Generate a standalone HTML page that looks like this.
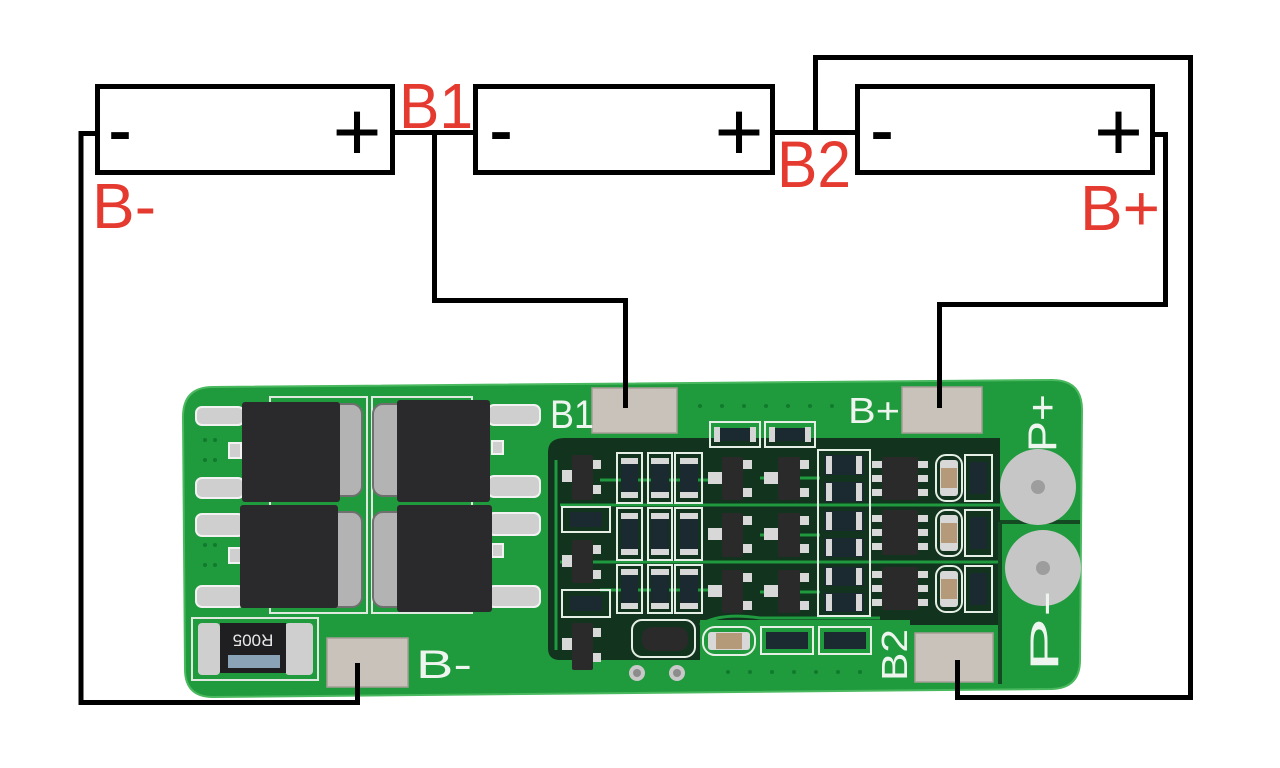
<!DOCTYPE html>
<html><head><meta charset="utf-8"><style>
html,body{margin:0;padding:0;background:#fff;}
svg{display:block;}
</style></head><body>
<svg width="1280" height="768" viewBox="0 0 1280 768" xmlns="http://www.w3.org/2000/svg">
<rect width="1280" height="768" fill="#ffffff"/>

<!-- PCB board -->
<path d="M213 387 L1052 380 Q1082 380 1082 410 L1080 660 Q1080 688 1052 689 L213 697 Q185 697 185 669 L183 417 Q183 387 213 387 Z" fill="#1f9a3c" stroke="#49b85e" stroke-width="2"/>

<!-- dark copper region -->
<path d="M565 438 L1000 438 L1000 625 L880 625 L870 660 L560 660 Q548 660 548 648 L548 452 Q548 438 565 438 Z" fill="#12331d"/>
<!-- green traces in dark region -->
<g stroke="#1f9a3e" stroke-width="3" fill="none">
<path d="M560 505 H1000"/><path d="M560 562 H1000"/><path d="M600 480 H720"/><path d="M600 590 H720"/>
<path d="M760 478 H820"/><path d="M760 535 H820"/><path d="M760 592 H820"/>
<path d="M700 625 Q720 612 760 618 H880"/>
<path d="M556 460 V650"/>
</g>
<!-- green area strip at bottom -->
<rect x="700" y="620" width="210" height="60" fill="#1f9a3c"/>
<rect x="548" y="660" width="150" height="25" fill="#1f9a3c"/>

<!-- separator lines right -->
<path d="M1000 522 V684 M1000 522 H1080" stroke="#134a22" stroke-width="4" fill="none"/>

<!-- MOSFET silkscreen frames -->
<g fill="none" stroke="#dfe9df" stroke-width="2">
<rect x="270" y="397" width="97" height="216"/>
<rect x="372" y="397" width="100" height="216"/>
<rect x="192" y="618" width="126" height="62"/>
</g>
<!-- MOSFET tabs -->
<g fill="#b3b3b3" stroke="#6f6f6f" stroke-width="2">
<rect x="322" y="404" width="40" height="92" rx="10"/>
<rect x="322" y="512" width="40" height="95" rx="10"/>
<rect x="373" y="404" width="40" height="92" rx="10"/>
<rect x="373" y="512" width="40" height="95" rx="10"/>
</g>
<!-- pins left -->
<g fill="#cfcfcf" stroke="#f2f2f2" stroke-width="2">
<rect x="196" y="407" width="48" height="18" rx="6"/>
<rect x="196" y="478" width="48" height="20" rx="6"/>
<rect x="196" y="514" width="48" height="22" rx="6"/>
<rect x="196" y="586" width="48" height="21" rx="6"/>
<rect x="229" y="443" width="12" height="15"/>
<rect x="229" y="548" width="12" height="15"/>
<rect x="488" y="405" width="52" height="20" rx="6"/>
<rect x="488" y="476" width="52" height="21" rx="6"/>
<rect x="488" y="513" width="52" height="22" rx="6"/>
<rect x="488" y="586" width="52" height="21" rx="6"/>
<rect x="492" y="441" width="11" height="13"/>
<rect x="492" y="544" width="11" height="13"/>
</g>
<!-- MOSFET bodies -->
<g fill="#2a2a2c">
<rect x="242" y="402" width="98" height="100" rx="3"/>
<rect x="240" y="505" width="98" height="103" rx="3"/>
<rect x="397" y="400" width="93" height="102" rx="3"/>
<rect x="397" y="505" width="95" height="107" rx="3"/>
</g>

<!-- R005 sense resistor -->
<rect x="198" y="623" width="22" height="52" rx="4" fill="#cfcfcf"/>
<rect x="285" y="623" width="28" height="52" rx="4" fill="#cfcfcf"/>
<rect x="220" y="623" width="66" height="50" fill="#1f1f21"/>
<rect x="228" y="655" width="52" height="13" fill="#8aa3b6"/>
<text x="253" y="640" transform="rotate(180 253 640)" text-anchor="middle" dominant-baseline="central" font-family="Liberation Sans, sans-serif" font-size="17" fill="#e8e8e8">R005</text>

<!-- pads -->
<g fill="#c9c2bb" stroke="#a59d96" stroke-width="1.5">
<rect x="327" y="638" width="81" height="49"/>
<rect x="592" y="388" width="85" height="45"/>
<rect x="902" y="387" width="80" height="46"/>
<rect x="915" y="633" width="78" height="49"/>
</g>
<!-- P+ / P- round pads -->
<circle cx="1038" cy="487" r="38" fill="#c6c6c6"/>
<circle cx="1038" cy="487" r="7" fill="#9d9d9d"/>
<circle cx="1043" cy="568" r="38" fill="#c6c6c6"/>
<circle cx="1043" cy="568" r="7" fill="#9d9d9d"/>

<!-- silkscreen labels -->
<g font-family="Liberation Sans, sans-serif" fill="#eef4ee">
<text x="416" y="678" font-size="40" textLength="56" lengthAdjust="spacingAndGlyphs">B-</text>
<text x="550" y="428" font-size="40" textLength="44" lengthAdjust="spacingAndGlyphs">B1</text>
<text x="848" y="423" font-size="36" textLength="52" lengthAdjust="spacingAndGlyphs">B+</text>
<text x="0" y="0" font-size="36" transform="translate(907 681) rotate(-90)" textLength="52" lengthAdjust="spacingAndGlyphs">B2</text>
<text x="0" y="0" font-size="40" transform="translate(1056 452) rotate(-90)" textLength="58" lengthAdjust="spacingAndGlyphs">P+</text>
<text x="0" y="0" font-size="40" transform="translate(1058 672) rotate(-90)" textLength="82" lengthAdjust="spacingAndGlyphs">P-</text>
</g>

<!-- top small resistors -->
<g fill="none" stroke="#e6efe6" stroke-width="2">
<rect x="710" y="422" width="50" height="25"/>
<rect x="765" y="422" width="50" height="25"/>
</g>
<g fill="#1b2a30"><rect x="718" y="428" width="34" height="13"/><rect x="773" y="428" width="34" height="13"/></g>
<g fill="#d5d5d5"><rect x="714" y="427" width="6" height="15"/><rect x="750" y="427" width="6" height="15"/><rect x="769" y="427" width="6" height="15"/><rect x="805" y="427" width="6" height="15"/></g>

<!-- left column components -->
<g fill="none" stroke="#e6efe6" stroke-width="2">
<rect x="562" y="507" width="48" height="25"/>
<rect x="562" y="590" width="48" height="27"/>
<rect x="617" y="453" width="25" height="50"/><rect x="648" y="453" width="24" height="50"/><rect x="675" y="453" width="27" height="50"/>
<rect x="617" y="508" width="25" height="52"/><rect x="648" y="508" width="24" height="52"/><rect x="675" y="508" width="27" height="52"/>
<rect x="617" y="565" width="25" height="48"/><rect x="648" y="565" width="24" height="48"/><rect x="675" y="565" width="27" height="48"/>
<rect x="818" y="450" width="52" height="166"/>
<rect x="936" y="455" width="26" height="46" rx="10"/><rect x="936" y="510" width="26" height="46" rx="10"/><rect x="936" y="566" width="26" height="46" rx="10"/>
<rect x="965" y="455" width="27" height="46"/><rect x="965" y="510" width="27" height="46"/><rect x="965" y="566" width="27" height="46"/>
<rect x="632" y="620" width="63" height="37" rx="10"/>
<rect x="703" y="627" width="52" height="28" rx="12"/>
<rect x="761" y="627" width="52" height="27"/>
<rect x="819" y="627" width="52" height="27"/>
</g>
<!-- resistor bodies -->
<g fill="#1b2a30">
<rect x="621" y="463" width="17" height="30"/><rect x="651" y="463" width="18" height="30"/><rect x="680" y="463" width="18" height="30"/>
<rect x="621" y="518" width="17" height="32"/><rect x="651" y="518" width="18" height="32"/><rect x="680" y="518" width="18" height="32"/>
<rect x="621" y="574" width="17" height="30"/><rect x="651" y="574" width="18" height="30"/><rect x="680" y="574" width="18" height="30"/>
<rect x="570" y="512" width="32" height="15"/><rect x="570" y="596" width="32" height="15"/>
<rect x="824" y="455" width="40" height="20"/><rect x="824" y="482" width="40" height="20"/><rect x="824" y="511" width="40" height="20"/><rect x="824" y="538" width="40" height="19"/><rect x="824" y="567" width="40" height="19"/><rect x="824" y="593" width="40" height="19"/>
<rect x="970" y="462" width="17" height="32"/><rect x="970" y="517" width="17" height="32"/><rect x="970" y="573" width="17" height="32"/>
<rect x="766" y="632" width="42" height="17"/><rect x="824" y="632" width="42" height="17"/>
</g>
<g fill="#d8d8d8">
<rect x="621" y="458" width="17" height="6"/><rect x="621" y="492" width="17" height="6"/>
<rect x="651" y="458" width="18" height="6"/><rect x="651" y="492" width="18" height="6"/>
<rect x="680" y="458" width="18" height="6"/><rect x="680" y="492" width="18" height="6"/>
<rect x="621" y="513" width="17" height="6"/><rect x="621" y="549" width="17" height="6"/>
<rect x="651" y="513" width="18" height="6"/><rect x="651" y="549" width="18" height="6"/>
<rect x="680" y="513" width="18" height="6"/><rect x="680" y="549" width="18" height="6"/>
<rect x="621" y="569" width="17" height="6"/><rect x="621" y="603" width="17" height="6"/>
<rect x="651" y="569" width="18" height="6"/><rect x="651" y="603" width="18" height="6"/>
<rect x="680" y="569" width="18" height="6"/><rect x="680" y="603" width="18" height="6"/>
<rect x="826" y="456" width="6" height="18"/><rect x="856" y="456" width="6" height="18"/>
<rect x="826" y="483" width="6" height="18"/><rect x="856" y="483" width="6" height="18"/>
<rect x="826" y="512" width="6" height="18"/><rect x="856" y="512" width="6" height="18"/>
<rect x="826" y="539" width="6" height="17"/><rect x="856" y="539" width="6" height="17"/>
<rect x="826" y="568" width="6" height="17"/><rect x="856" y="568" width="6" height="17"/>
<rect x="826" y="594" width="6" height="17"/><rect x="856" y="594" width="6" height="17"/>
<rect x="940" y="460" width="18" height="36" rx="3"/><rect x="940" y="515" width="18" height="36" rx="3"/><rect x="940" y="571" width="18" height="36" rx="3"/>
<rect x="708" y="632" width="42" height="18" rx="3"/>
</g>
<g fill="#b49a78">
<rect x="941" y="468" width="16" height="20"/><rect x="941" y="523" width="16" height="20"/><rect x="941" y="579" width="16" height="20"/>
<rect x="716" y="633" width="26" height="16"/>
</g>
<!-- SOT-23 transistors -->
<g fill="#d8d8d8">
<rect x="562" y="470" width="12" height="12"/><rect x="592" y="460" width="9" height="9"/><rect x="592" y="485" width="9" height="9"/>
<rect x="562" y="555" width="12" height="12"/><rect x="592" y="545" width="9" height="9"/><rect x="592" y="570" width="9" height="9"/>
<rect x="562" y="638" width="12" height="12"/><rect x="592" y="628" width="9" height="9"/><rect x="592" y="653" width="9" height="9"/>
<rect x="708" y="472" width="14" height="12"/><rect x="743" y="460" width="9" height="9"/><rect x="743" y="488" width="9" height="9"/>
<rect x="708" y="528" width="14" height="12"/><rect x="743" y="516" width="9" height="9"/><rect x="743" y="544" width="9" height="9"/>
<rect x="708" y="585" width="14" height="12"/><rect x="743" y="573" width="9" height="9"/><rect x="743" y="601" width="9" height="9"/>
<rect x="764" y="472" width="14" height="12"/><rect x="800" y="460" width="9" height="9"/><rect x="800" y="488" width="9" height="9"/>
<rect x="764" y="528" width="14" height="12"/><rect x="800" y="516" width="9" height="9"/><rect x="800" y="544" width="9" height="9"/>
<rect x="764" y="585" width="14" height="12"/><rect x="800" y="573" width="9" height="9"/><rect x="800" y="601" width="9" height="9"/>
</g>
<g fill="#2a2a2a">
<rect x="572" y="455" width="21" height="45" rx="2"/><rect x="572" y="540" width="21" height="43" rx="2"/><rect x="572" y="623" width="21" height="47" rx="2"/>
<rect x="722" y="457" width="21" height="43" rx="2"/><rect x="722" y="513" width="21" height="44" rx="2"/><rect x="722" y="570" width="21" height="43" rx="2"/>
<rect x="778" y="457" width="22" height="43" rx="2"/><rect x="778" y="513" width="22" height="44" rx="2"/><rect x="778" y="570" width="22" height="43" rx="2"/>
<rect x="882" y="457" width="36" height="43" rx="2"/><rect x="882" y="510" width="36" height="45" rx="2"/><rect x="882" y="567" width="36" height="43" rx="2"/>
<rect x="642" y="627" width="46" height="24" rx="10"/>
</g>
<!-- SOT-23-6 pins -->
<g fill="#d8d8d8">
<rect x="872" y="461" width="10" height="7"/><rect x="872" y="475" width="10" height="7"/><rect x="872" y="489" width="10" height="7"/>
<rect x="918" y="461" width="10" height="7"/><rect x="918" y="475" width="10" height="7"/><rect x="918" y="489" width="10" height="7"/>
<rect x="872" y="515" width="10" height="7"/><rect x="872" y="529" width="10" height="7"/><rect x="872" y="543" width="10" height="7"/>
<rect x="918" y="515" width="10" height="7"/><rect x="918" y="529" width="10" height="7"/><rect x="918" y="543" width="10" height="7"/>
<rect x="872" y="571" width="10" height="7"/><rect x="872" y="585" width="10" height="7"/><rect x="872" y="599" width="10" height="7"/>
<rect x="918" y="571" width="10" height="7"/><rect x="918" y="585" width="10" height="7"/><rect x="918" y="599" width="10" height="7"/>
</g>
<!-- vias -->
<circle cx="637" cy="673" r="8" fill="#c8c8c8"/><circle cx="637" cy="673" r="4" fill="#8c8c8c"/>
<circle cx="677" cy="673" r="8" fill="#c8c8c8"/><circle cx="677" cy="673" r="4" fill="#8c8c8c"/>
<!-- dots -->
<g fill="#127a2e">
<circle cx="700" cy="406" r="2"/><circle cx="722" cy="406" r="2"/><circle cx="744" cy="406" r="2"/><circle cx="766" cy="406" r="2"/><circle cx="788" cy="406" r="2"/><circle cx="810" cy="406" r="2"/><circle cx="832" cy="406" r="2"/>
<circle cx="728" cy="672" r="2"/><circle cx="750" cy="672" r="2"/><circle cx="772" cy="672" r="2"/><circle cx="794" cy="672" r="2"/><circle cx="816" cy="672" r="2"/><circle cx="838" cy="672" r="2"/><circle cx="860" cy="672" r="2"/>
<circle cx="205" cy="440" r="2"/><circle cx="215" cy="440" r="2"/><circle cx="205" cy="460" r="2"/><circle cx="215" cy="460" r="2"/>
<circle cx="205" cy="545" r="2"/><circle cx="215" cy="545" r="2"/><circle cx="205" cy="565" r="2"/><circle cx="215" cy="565" r="2"/>
</g>

<!-- batteries -->
<g fill="none" stroke="#000" stroke-width="5" stroke-linejoin="miter">
<rect x="97.5" y="86.5" width="295" height="86"/>
<rect x="475.5" y="86.5" width="297" height="86"/>
<rect x="857.5" y="86.5" width="295" height="86"/>
</g>
<!-- wires -->
<g fill="none" stroke="#000" stroke-width="5" stroke-linejoin="miter" stroke-linecap="butt">
<polyline points="95,133.5 81,133.5 81,702.5 357.5,702.5 357.5,663"/>
<line x1="395" y1="132.5" x2="475" y2="132.5"/>
<polyline points="434.5,132.5 434.5,300.5 625.5,300.5 625.5,408"/>
<line x1="775" y1="132.5" x2="855" y2="132.5"/>
<polyline points="815.5,132.5 815.5,57.5 1190.5,57.5 1190.5,697.5 957.5,697.5 957.5,660"/>
<polyline points="1155,134.5 1165.5,134.5 1165.5,304.5 939.5,304.5 939.5,408"/>
</g>

<!-- battery polarity marks -->
<g font-family="Liberation Sans, sans-serif" fill="#000">
<text x="108" y="159" font-size="88" textLength="24" lengthAdjust="spacingAndGlyphs">-</text>
<text x="489" y="159" font-size="88" textLength="24" lengthAdjust="spacingAndGlyphs">-</text>
<text x="870" y="159" font-size="88" textLength="24" lengthAdjust="spacingAndGlyphs">-</text>
<text x="357" y="160.6" font-size="84" text-anchor="middle">+</text>
<text x="739" y="160.6" font-size="84" text-anchor="middle">+</text>
<text x="1118.5" y="160.6" font-size="84" text-anchor="middle">+</text>
</g>

<!-- red labels -->
<g font-family="Liberation Sans, sans-serif" fill="#e53a2f">
<text x="399" y="128" font-size="64" textLength="74" lengthAdjust="spacingAndGlyphs">B1</text>
<text x="92" y="228" font-size="64" textLength="64" lengthAdjust="spacingAndGlyphs">B-</text>
<text x="777" y="187" font-size="66" textLength="74" lengthAdjust="spacingAndGlyphs">B2</text>
<text x="1080" y="230" font-size="64" textLength="80" lengthAdjust="spacingAndGlyphs">B+</text>
</g>
</svg>
</body></html>
